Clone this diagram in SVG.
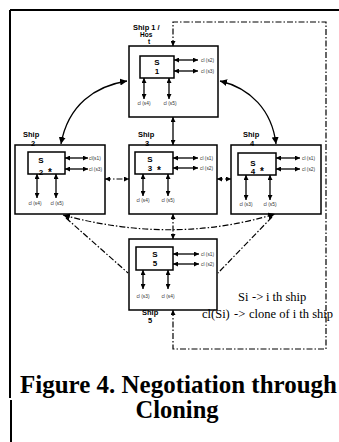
<svg xmlns="http://www.w3.org/2000/svg" width="339" height="442" viewBox="0 0 339 442">
<style>
.box{fill:none;stroke:#000;stroke-width:1.5}
.ln{fill:none;stroke:#000;stroke-width:1.3}
.dd{fill:none;stroke:#000;stroke-width:1.2;stroke-dasharray:6 2 1.5 2}
.big{font-family:"Liberation Sans",Arial,sans-serif;font-weight:bold;font-size:8px;fill:#000}
.star{font-family:"Liberation Sans",Arial,sans-serif;font-weight:bold;font-size:10px;fill:#000}
.shp{font-family:"Liberation Sans",Arial,sans-serif;font-weight:bold;font-size:7.5px;fill:#000}
.shs{font-family:"Liberation Sans",Arial,sans-serif;font-weight:bold;font-size:6.5px;fill:#000}
.sm{font-family:"Liberation Sans",Arial,sans-serif;font-size:4.8px;fill:#333}
.leg{font-family:"Liberation Serif","Times New Roman",serif;font-size:12.5px;fill:#000}
.cap{font-family:"Liberation Serif","Times New Roman",serif;font-weight:bold;font-size:24.5px;fill:#000}
</style>
<defs>
<marker id="a" viewBox="0 0 10 10" refX="10" refY="5" markerWidth="5" markerHeight="5" markerUnits="userSpaceOnUse" orient="auto-start-reverse"><path d="M0,0 L10,5 L0,10 z" fill="#000"/></marker>
<marker id="b" viewBox="0 0 10 10" refX="10" refY="5" markerWidth="7" markerHeight="7" markerUnits="userSpaceOnUse" orient="auto-start-reverse"><path d="M0,0 L10,5 L0,10 z" fill="#000"/></marker>
</defs>

<g id="frame">
<path d="M10,10 L339,10" stroke="#000" stroke-width="2"/>
<path d="M10,10 L10,398" stroke="#000" stroke-width="2"/>
<path d="M11,400 L11,442" stroke="#000" stroke-width="2"/>
</g>

<g id="ship1">
<rect class="box" x="129" y="46" width="89" height="71"/>
<rect class="box" x="140" y="56" width="34" height="22"/>
<text class="big" x="157" y="65" text-anchor="middle">S</text>
<text class="big" x="157" y="74" text-anchor="middle">1</text>
<path class="ln" d="M174,60 L198,60" marker-start="url(#a)" marker-end="url(#a)"/>
<path class="ln" d="M174,71 L198,71" marker-start="url(#a)" marker-end="url(#a)"/>
<path class="ln" d="M144,78 L144,99" marker-start="url(#a)" marker-end="url(#a)"/>
<path class="ln" d="M169,78 L169,99" marker-start="url(#a)" marker-end="url(#a)"/>
<text class="sm" x="201" y="62">cl (s2)</text>
<text class="sm" x="201" y="73">cl (s3)</text>
<text class="sm" x="144" y="105" text-anchor="middle">cl (s4)</text>
<text class="sm" x="170" y="105" text-anchor="middle">cl (s5)</text>
<text class="shp" x="133" y="30">Ship 1 /</text>
<text class="shs" x="140" y="37">Hos</text>
<text class="shs" x="148" y="44">t</text>
</g>

<g id="ship2">
<rect class="box" x="15" y="145" width="90" height="69"/>
<rect class="box" x="28" y="152" width="37" height="22"/>
<text class="big" x="41" y="163" text-anchor="middle">S</text>
<text class="big" x="41" y="175" text-anchor="middle">2</text>
<text class="star" x="50" y="176" text-anchor="middle">*</text>
<path class="ln" d="M65,158 L88,158" marker-start="url(#a)" marker-end="url(#a)"/>
<path class="ln" d="M65,169 L88,169" marker-start="url(#a)" marker-end="url(#a)"/>
<path class="ln" d="M37,174 L37,198" marker-start="url(#a)" marker-end="url(#a)"/>
<path class="ln" d="M56,174 L56,198" marker-start="url(#a)" marker-end="url(#a)"/>
<text class="sm" x="89" y="160">cl(s1)</text>
<text class="sm" x="89" y="171">cl (s3)</text>
<text class="sm" x="35" y="205" text-anchor="middle">cl (s4)</text>
<text class="sm" x="57" y="205" text-anchor="middle">cl (s5)</text>
<text class="shp" x="23" y="137">Ship</text>
<text class="shp" x="31" y="146">2</text>
</g>

<g id="ship3">
<rect class="box" x="129" y="145" width="88" height="69"/>
<rect class="box" x="135" y="152" width="38" height="22"/>
<text class="big" x="150" y="162" text-anchor="middle">S</text>
<text class="big" x="150" y="171" text-anchor="middle">3</text>
<text class="star" x="159" y="174" text-anchor="middle">*</text>
<path class="ln" d="M173,158 L198,158" marker-start="url(#a)" marker-end="url(#a)"/>
<path class="ln" d="M173,168 L198,168" marker-start="url(#a)" marker-end="url(#a)"/>
<path class="ln" d="M143,174 L143,196" marker-start="url(#a)" marker-end="url(#a)"/>
<path class="ln" d="M168,174 L168,196" marker-start="url(#a)" marker-end="url(#a)"/>
<text class="sm" x="200" y="160">cl (s1)</text>
<text class="sm" x="200" y="170">cl (s2)</text>
<text class="sm" x="143" y="202" text-anchor="middle">cl (s4)</text>
<text class="sm" x="168" y="202" text-anchor="middle">cl (s5)</text>
<text class="shp" x="138" y="137">Ship</text>
<text class="shp" x="145" y="146">3</text>
</g>

<g id="ship4">
<rect class="box" x="231" y="145" width="90" height="69"/>
<rect class="box" x="238" y="153" width="38" height="22"/>
<text class="big" x="253" y="166" text-anchor="middle">S</text>
<text class="big" x="253" y="174" text-anchor="middle">4</text>
<text class="star" x="262" y="175" text-anchor="middle">*</text>
<path class="ln" d="M276,158 L300,158" marker-start="url(#a)" marker-end="url(#a)"/>
<path class="ln" d="M276,169 L300,169" marker-start="url(#a)" marker-end="url(#a)"/>
<path class="ln" d="M246,175 L246,200" marker-start="url(#a)" marker-end="url(#a)"/>
<path class="ln" d="M270,175 L270,200" marker-start="url(#a)" marker-end="url(#a)"/>
<text class="sm" x="302" y="160">cl (s1)</text>
<text class="sm" x="302" y="171">cl (s2)</text>
<text class="sm" x="246" y="206" text-anchor="middle">cl (s3)</text>
<text class="sm" x="270" y="206" text-anchor="middle">cl (s5)</text>
<text class="shp" x="243" y="137">Ship</text>
<text class="shp" x="250" y="146">4</text>
</g>

<g id="ship5">
<rect class="box" x="129" y="239" width="88" height="71"/>
<rect class="box" x="136" y="247" width="37" height="23"/>
<text class="big" x="155" y="257" text-anchor="middle">S</text>
<text class="big" x="155" y="266" text-anchor="middle">5</text>
<path class="ln" d="M173,254 L199,254" marker-start="url(#a)" marker-end="url(#a)"/>
<path class="ln" d="M173,264 L199,264" marker-start="url(#a)" marker-end="url(#a)"/>
<path class="ln" d="M143,270 L143,289" marker-start="url(#a)" marker-end="url(#a)"/>
<path class="ln" d="M168,270 L168,289" marker-start="url(#a)" marker-end="url(#a)"/>
<text class="sm" x="201" y="256">cl (s1)</text>
<text class="sm" x="201" y="266">cl (s2)</text>
<text class="sm" x="143" y="298" text-anchor="middle">cl (s3)</text>
<text class="sm" x="168" y="298" text-anchor="middle">cl (s4)</text>
<text class="shp" x="142" y="315">Ship</text>
<text class="shp" x="148" y="323">5</text>
</g>

<g id="connectors">
<path class="ln" d="M127,81 C95,86 68,105 61,144" marker-start="url(#b)" marker-end="url(#b)"/>
<path class="ln" d="M220,81 C250,88 272,110 276,144" marker-start="url(#b)" marker-end="url(#b)"/>
<path class="ln" d="M173,117 L173,145" marker-start="url(#a)" marker-end="url(#a)"/>
<path class="dd" d="M105,179 L129,179" marker-start="url(#a)" marker-end="url(#a)"/>
<path class="dd" d="M217,179 L231,179" marker-start="url(#a)" marker-end="url(#a)"/>
<path class="dd" d="M173,214 L173,239" marker-start="url(#a)" marker-end="url(#a)"/>
<path class="dd" d="M63,215 Q173,245 275,214" marker-start="url(#b)" marker-end="url(#b)"/>
<path class="dd" d="M66,218 L128,273"/>
<path class="dd" d="M272,217 L218,273"/>
<path class="dd" d="M173,46 L173,22 L326,22 L326,349 L173,349 L173,310" marker-start="url(#a)" marker-end="url(#a)"/>
</g>

<g id="legend">
<text class="leg" x="238" y="301">Si</text>
<text class="leg" x="252" y="301">-&gt;</text>
<text class="leg" x="266" y="301">i th ship</text>
<text class="leg" x="202" y="318">cl(Si)</text>
<text class="leg" x="234" y="318">-&gt;</text>
<text class="leg" x="249" y="318">clone of i th ship</text>
</g>

<g id="caption">
<text class="cap" x="20" y="393" textLength="317" lengthAdjust="spacingAndGlyphs">Figure 4. Negotiation through</text>
<text class="cap" x="177" y="418" text-anchor="middle">Cloning</text>
</g>
</svg>
